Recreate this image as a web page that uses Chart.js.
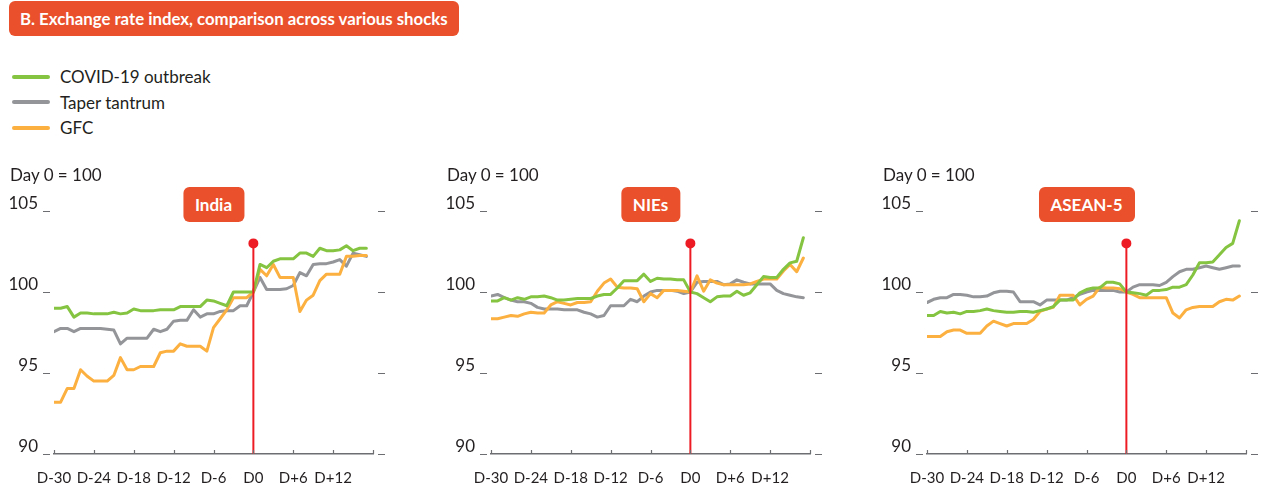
<!DOCTYPE html>
<html>
<head>
<meta charset="utf-8">
<script src="https://cdn.jsdelivr.net/npm/chart.js@4.4.0/dist/chart.umd.min.js"></script>
<style>
  html, body { margin: 0; padding: 0; background: #fff; overflow: hidden; }
  body { width: 1268px; height: 484px; position: relative; font-family: Lato, "Noto Sans", sans-serif; color: #231f20; }
  #title {
    position: absolute; left: 9px; top: 1px; width: 450px; height: 35px; box-sizing: border-box;
    background: #e9502b; border-radius: 6px; color: #fff; font-weight: bold; font-size: 16.8px;
    line-height: 35px; padding-left: 11px; white-space: nowrap;
  }
  #legend { position: absolute; left: 12px; top: 64px; }
  .item { height: 25.5px; display: flex; align-items: center; font-size: 17px; }
  .swatch { width: 38px; height: 4px; border-radius: 2px; margin-right: 10px; }
  .unit { position: absolute; top: 164px; font-size: 17px; white-space: nowrap; }
  .tag {
    position: absolute; top: 187px; height: 35px; line-height: 35px; transform: translateX(-50%);
    background: #e9502b; border-radius: 6px; color: #fff; font-weight: bold; font-size: 17px;
    padding: 0 12px; white-space: nowrap;
  }
  canvas { position: absolute; top: 160px; }
</style>
</head>
<body>
<div id="title">B. Exchange rate index, comparison across various shocks</div>
<div id="legend"></div>

<script>
// Days relative to the shock (D0)
const days = [-30, -29, -28, -27, -26, -25, -24, -23, -22, -21, -20, -19, -18, -17, -16, -15,
  -14, -13, -12, -11, -10, -9, -8, -7, -6, -5, -4, -3, -2, -1, 0,
  1, 2, 3, 4, 5, 6, 7, 8, 9, 10, 11, 12, 13, 14, 15, 16, 17];

const seriesNames = ['COVID-19 outbreak', 'Taper tantrum', 'GFC'];
const seriesColors = ['#84c441', '#939598', '#fbb040'];
const panelNames = ['India', 'NIEs', 'ASEAN-5'];

const yTicks = [90, 95, 100, 105];
const xTicks = [-30, -24, -18, -12, -6, 0, 6, 12, 18];

// Red marker at D0
const shockDay = [0, 0];
const shockRange = [90, 103];

// India
const indiaCovid = [99.0, 99.0, 99.1, 98.45, 98.7, 98.7, 98.65, 98.65, 98.65, 98.75, 98.65, 98.7, 98.95, 98.85, 98.85, 98.85,
  98.9, 98.9, 98.9, 99.1, 99.1, 99.1, 99.1, 99.5, 99.45, 99.3, 99.15, 100.0, 100.0, 100.0, 100,
  101.7, 101.5, 101.9, 102.05, 102.05, 102.05, 102.4, 102.4, 102.2, 102.7, 102.55, 102.55, 102.6, 102.85, 102.55, 102.7, 102.7];
const indiaTaper = [97.55, 97.75, 97.75, 97.55, 97.75, 97.75, 97.75, 97.75, 97.7, 97.65, 96.8, 97.15, 97.15, 97.15, 97.15, 97.7,
  97.55, 97.7, 98.2, 98.25, 98.25, 98.9, 98.45, 98.65, 98.65, 98.8, 98.85, 98.85, 99.15, 99.15, 100,
  100.9, 100.15, 100.15, 100.15, 100.2, 100.4, 101.2, 101.0, 101.7, 101.75, 101.75, 101.85, 102.0, 101.6, 102.4, 102.3, 102.2];
const indiaGfc = [93.2, 93.2, 94.05, 94.05, 95.2, 94.8, 94.5, 94.5, 94.5, 94.85, 95.95, 95.2, 95.2, 95.4, 95.4, 95.4,
  96.25, 96.35, 96.35, 96.8, 96.65, 96.65, 96.65, 96.35, 97.8, 98.35, 98.9, 99.65, 99.65, 99.65, 100,
  101.4, 101.0, 101.7, 100.9, 100.9, 100.9, 98.8, 99.5, 99.8, 100.7, 101.1, 101.1, 101.1, 102.2, 102.2, 102.25, 102.25];

// NIEs
const niesCovid = [99.45, 99.45, 99.65, 99.5, 99.65, 99.55, 99.7, 99.7, 99.75, 99.65, 99.5, 99.5, 99.55, 99.6, 99.6, 99.6,
  99.75, 99.85, 99.85, 100.25, 100.7, 100.7, 100.7, 101.1, 100.65, 100.85, 100.8, 100.8, 100.75, 100.75, 100,
  99.9, 99.65, 99.4, 99.7, 99.75, 99.75, 100.05, 99.8, 99.95, 100.45, 100.95, 100.9, 100.9, 101.4, 101.8, 101.9, 103.35];
const niesTaper = [99.75, 99.85, 99.65, 99.5, 99.4, 99.4, 99.3, 99.05, 98.95, 98.95, 98.95, 98.9, 98.9, 98.9, 98.75, 98.65,
  98.45, 98.55, 99.15, 99.15, 99.15, 99.55, 99.4, 99.75, 100.0, 100.1, 100.1, 100.1, 100.05, 99.9, 100,
  100.6, 100.65, 100.65, 100.65, 100.45, 100.5, 100.75, 100.6, 100.5, 100.5, 100.5, 100.5, 100.1, 99.9, 99.8, 99.7, 99.65];
const niesGfc = [98.35, 98.35, 98.45, 98.55, 98.5, 98.65, 98.75, 98.7, 98.7, 99.2, 99.4, 99.3, 99.2, 99.35, 99.35, 99.4,
  100.05, 100.55, 100.8, 100.3, 100.25, 100.25, 100.2, 99.4, 99.9, 99.65, 100.1, 100.1, 100.1, 100.05, 100,
  101.0, 100.05, 100.75, 100.55, 100.45, 100.45, 100.45, 100.45, 100.5, 100.65, 100.8, 100.8, 100.8, 101.3, 101.7, 101.25, 102.1];

// ASEAN-5
const aseanCovid = [98.55, 98.55, 98.8, 98.7, 98.75, 98.65, 98.8, 98.8, 98.85, 98.95, 98.85, 98.8, 98.75, 98.75, 98.8, 98.8,
  98.75, 98.85, 98.95, 99.1, 99.5, 99.5, 99.5, 99.95, 100.15, 100.25, 100.25, 100.6, 100.6, 100.5, 100,
  99.95, 99.9, 99.8, 100.1, 100.1, 100.15, 100.3, 100.3, 100.45, 101.05, 101.8, 101.8, 101.85, 102.3, 102.75, 103.0, 104.4];
const aseanTaper = [99.35, 99.55, 99.65, 99.65, 99.85, 99.85, 99.8, 99.7, 99.7, 99.75, 99.95, 100.05, 100.05, 100.0, 99.4, 99.4,
  99.4, 99.2, 99.5, 99.5, 99.5, 99.5, 99.65, 99.85, 100.0, 100.1, 100.1, 100.1, 100.1, 100.0, 100,
  100.3, 100.45, 100.45, 100.45, 100.4, 100.6, 100.95, 101.25, 101.4, 101.4, 101.5, 101.6, 101.5, 101.4, 101.5, 101.6, 101.6];
const aseanGfc = [97.25, 97.25, 97.25, 97.55, 97.65, 97.65, 97.45, 97.45, 97.45, 97.9, 98.2, 98.05, 97.9, 98.05, 98.05, 98.05,
  98.3, 98.8, 98.95, 99.05, 99.8, 99.8, 99.8, 99.2, 99.55, 99.75, 100.3, 100.25, 100.25, 100.2, 100,
  99.85, 99.65, 99.65, 99.65, 99.65, 99.65, 98.7, 98.4, 98.9, 99.05, 99.1, 99.1, 99.1, 99.4, 99.55, 99.5, 99.75];

const panelData = [
  [indiaCovid, indiaTaper, indiaGfc],
  [niesCovid, niesTaper, niesGfc],
  [aseanCovid, aseanTaper, aseanGfc]
];

// Page positions of each panel canvas
const panelLeft = [0, 437, 873];

const markColor = '#6d6e71';
const textColor = '#231f20';

// Legend
const legendEl = document.getElementById('legend');
seriesNames.forEach((name, i) => {
  const row = document.createElement('div');
  row.className = 'item';
  row.innerHTML = '<span class="swatch" style="background:' + seriesColors[i] + '"></span>' + name;
  legendEl.appendChild(row);
});

// Small dashes beside the value axis and upward ticks on the day axis
const axisMarks = {
  id: 'axisMarks',
  afterDraw: function(chart) {
    const ctx = chart.ctx;
    const area = chart.chartArea;
    const x = chart.scales.x;
    const y = chart.scales.y;
    ctx.save();
    ctx.strokeStyle = markColor;
    ctx.lineWidth = 1.2;
    ctx.beginPath();
    y.ticks.forEach(t => {
      const py = Math.round(y.getPixelForValue(t.value)) + 0.5;
      ctx.moveTo(area.left - 11, py);
      ctx.lineTo(area.left - 4, py);
      ctx.moveTo(area.right + 5, py);
      ctx.lineTo(area.right + 12, py);
    });
    x.ticks.forEach(t => {
      const px = Math.round(x.getPixelForValue(t.value)) + 0.5;
      ctx.moveTo(px, area.bottom);
      ctx.lineTo(px, area.bottom - 4);
    });
    ctx.stroke();
    ctx.restore();
  }
};

function dayLabel(v) {
  if (v === 18) return '';
  if (v === 0) return 'D0';
  return v < 0 ? 'D-' + Math.abs(v) : 'D+' + v;
}

panelNames.forEach((name, p) => {
  const canvas = document.createElement('canvas');
  canvas.width = 390;
  canvas.height = 324;
  canvas.style.left = panelLeft[p] + 'px';
  document.body.appendChild(canvas);

  const chartLeft = panelLeft[p] + 54;

  const unit = document.createElement('div');
  unit.className = 'unit';
  unit.style.left = (chartLeft - 44) + 'px';
  unit.textContent = 'Day 0 = 100';
  document.body.appendChild(unit);

  const tag = document.createElement('div');
  tag.className = 'tag';
  tag.style.left = (chartLeft + 159.5) + 'px';
  tag.textContent = name;
  document.body.appendChild(tag);

  const datasets = [{
    label: 'D0',
    data: shockDay.map((d, i) => ({ x: d, y: shockRange[i] })),
    borderColor: '#ed1c24',
    backgroundColor: '#ed1c24',
    borderWidth: 2,
    pointRadius: [0, 4],
    pointHoverRadius: 0,
    order: 0
  }];
  // draw order: GFC under taper tantrum under COVID
  const drawOrder = [1, 3, 2];
  panelData[p].forEach((values, s) => {
    datasets.push({
      label: seriesNames[s],
      data: days.map((d, i) => ({ x: d, y: values[i] })),
      borderColor: seriesColors[s],
      borderWidth: 3,
      pointRadius: 0,
      tension: 0,
      borderJoinStyle: 'round',
      borderCapStyle: 'round',
      order: drawOrder[s]
    });
  });

  new Chart(canvas.getContext('2d'), {
    type: 'line',
    data: { datasets: datasets },
    options: {
      responsive: false,
      animation: false,
      layout: { padding: { top: 51, right: 17, left: 0, bottom: 0 } },
      plugins: { legend: { display: false }, tooltip: { enabled: false } },
      scales: {
        x: {
          type: 'linear',
          min: -30,
          max: 18,
          afterFit: function(scale) {
            scale.height = 30;
            scale.paddingLeft = 0;
            scale.paddingRight = 0;
          },
          afterBuildTicks: function(scale) { scale.ticks = xTicks.map(v => ({ value: v })); },
          grid: { display: false, drawTicks: false },
          border: { display: true, color: markColor, width: 1.5 },
          ticks: {
            padding: 15,
            maxRotation: 0,
            autoSkip: false,
            color: textColor,
            font: { family: 'Lato', size: 15 },
            callback: dayLabel
          }
        },
        y: {
          min: 90,
          max: 105,
          afterFit: function(scale) {
            scale.width = 54;
            scale.paddingTop = 0;
            scale.paddingBottom = 0;
          },
          afterBuildTicks: function(scale) { scale.ticks = yTicks.map(v => ({ value: v })); },
          grid: { display: false, drawTicks: false },
          border: { display: false },
          ticks: {
            padding: 16,
            labelOffset: -7,
            color: textColor,
            font: { family: 'Lato', size: 17 }
          }
        }
      }
    },
    plugins: [axisMarks]
  });
});
</script>
</body>
</html>
